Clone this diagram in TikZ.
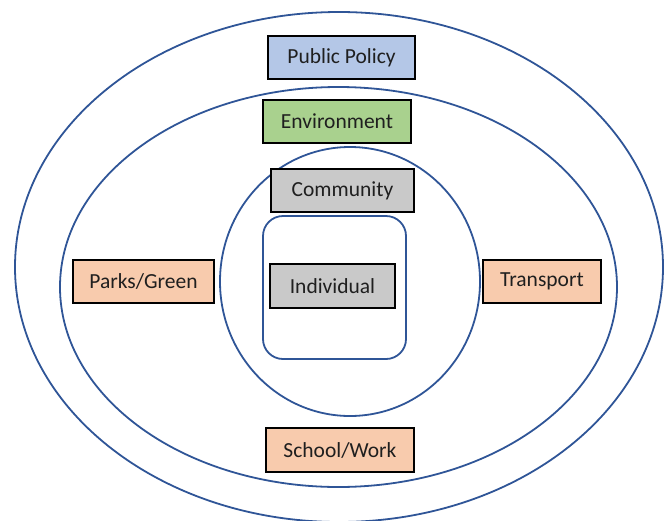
\documentclass[tikz,border=0pt]{standalone}
\usepackage{fontspec}
\setmainfont{Carlito}
\begin{document}
\begin{tikzpicture}[x=1pt,y=-1pt,
  ring/.style={draw=ringblue, line width=1.8pt},
  label/.style={draw=black, line width=1.8pt, text=black!88, inner sep=0pt,
    minimum height=43pt, font=\fontsize{21.5}{24}\selectfont},
  ]
  \definecolor{ringblue}{HTML}{2F5597}
  \definecolor{policyblue}{HTML}{B4C7E7}
  \definecolor{envgreen}{HTML}{A9D18E}
  \definecolor{boxgray}{HTML}{C9C9C9}
  \definecolor{peach}{HTML}{F8CBAD}
  \useasboundingbox (0,0) rectangle (664,520);

  % nested levels
  \draw[ring] (339,267) ellipse [x radius=324, y radius=255];
  \draw[ring] (338.5,287) ellipse [x radius=278.5, y radius=200];
  \draw[ring] (350,281.5) ellipse [x radius=130, y radius=134.5];
  \draw[ring, rounded corners=20pt] (263,216) rectangle (406,359);

  % level labels
  \node[label, fill=policyblue, minimum width=147pt] (policy) at (341.5,57.5) {Public Policy};
  \node[label, fill=envgreen, minimum width=148pt] (env) at (337,121.5) {Environment};
  \node[label, fill=boxgray, minimum width=143pt] (comm) at (342.5,190.5) {Community};
  \node[label, fill=boxgray, minimum width=125pt, minimum height=44pt] (indiv) at (332.5,286) {Individual};
  \node[label, fill=peach, minimum width=141pt] (parks) at (143.5,281.5) {Parks/Green};
  \node[label, fill=peach, minimum width=118pt] (transport) at (542,281.5) {Transport};
  \node[label, fill=peach, minimum width=148pt, minimum height=44pt] (school) at (340,450) {School/Work};
\end{tikzpicture}
\end{document}
